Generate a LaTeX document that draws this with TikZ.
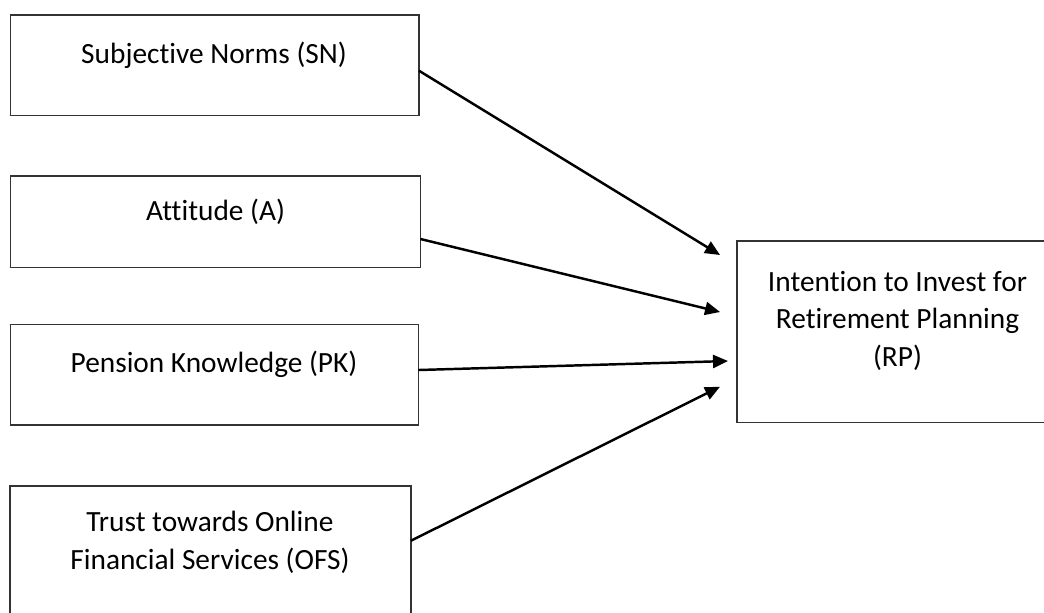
\documentclass[tikz,border=0pt]{standalone}
\usepackage{fontspec}
\setmainfont{Carlito}[Ligatures=NoCommon]
\usetikzlibrary{arrows.meta,calc}

\begin{document}
\begin{tikzpicture}[x=0.02cm, y=-0.02cm,
    factorbox/.style={draw=black!80, line width=0.8pt, inner sep=0pt, outer sep=0pt},
    boxtext/.style={font=\fontsize{16.7}{21.3}\selectfont, anchor=base, align=center, inner sep=0pt},
    link/.style={line width=1.4pt, -{Triangle[length=0.3cm, width=0.26cm]}}]
    \useasboundingbox (0,0) rectangle (1044,612);
    \clip (0,0) rectangle (1044,612);

    % Left column: the four factors
    \node[factorbox, minimum width=8.17cm, minimum height=2.01cm] (sn) at (214.75,65.25) {};
    \node[boxtext] (sntext) at (214,63.3) {Subjective Norms (SN)};

    \node[factorbox, minimum width=8.2cm, minimum height=1.83cm] (att) at (215.5,221.75) {};
    \node[boxtext] (atttext) at (215.5,220) {Attitude (A)};

    \node[factorbox, minimum width=8.16cm, minimum height=2.006cm] (pk) at (214.5,374.85) {};
    \node[boxtext] (pktext) at (214,372.7) {Pension Knowledge (PK)};

    \node[factorbox, minimum width=8.02cm, minimum height=2.68cm] (ofs) at (210.5,553) {};
    % base anchor sits on the last line
    \node[boxtext] (ofstext) at (210,569.3) {Trust towards Online\\Financial Services (OFS)};

    % Right: the outcome
    \node[factorbox, minimum width=6.42cm, minimum height=3.626cm] (rp) at (897.5,331.65) {};
    \node[boxtext] (rptext) at (897.5,366) {Intention to Invest for\\Retirement Planning\\(RP)};

    % Arrow tips stop short of the outcome box
    \coordinate (tipsn) at ($(rp.north west)+(-17,14)$);
    \coordinate (tipatt) at ($(rp.north west)+(-17,71)$);
    \coordinate (tippk) at ($(rp.north west)+(-9,120)$);
    \coordinate (tipofs) at ($(rp.north west)+(-17,145.7)$);

    \draw[link] ($(sn.north east)+(0,55.7)$) -- (tipsn);
    \draw[link] ($(att.north east)+(0,63)$) -- (tipatt);
    \draw[link] ($(pk.north east)+(0,45.3)$) -- (tippk);
    \draw[link] ($(ofs.north east)+(0,54.7)$) -- (tipofs);
\end{tikzpicture}
\end{document}
